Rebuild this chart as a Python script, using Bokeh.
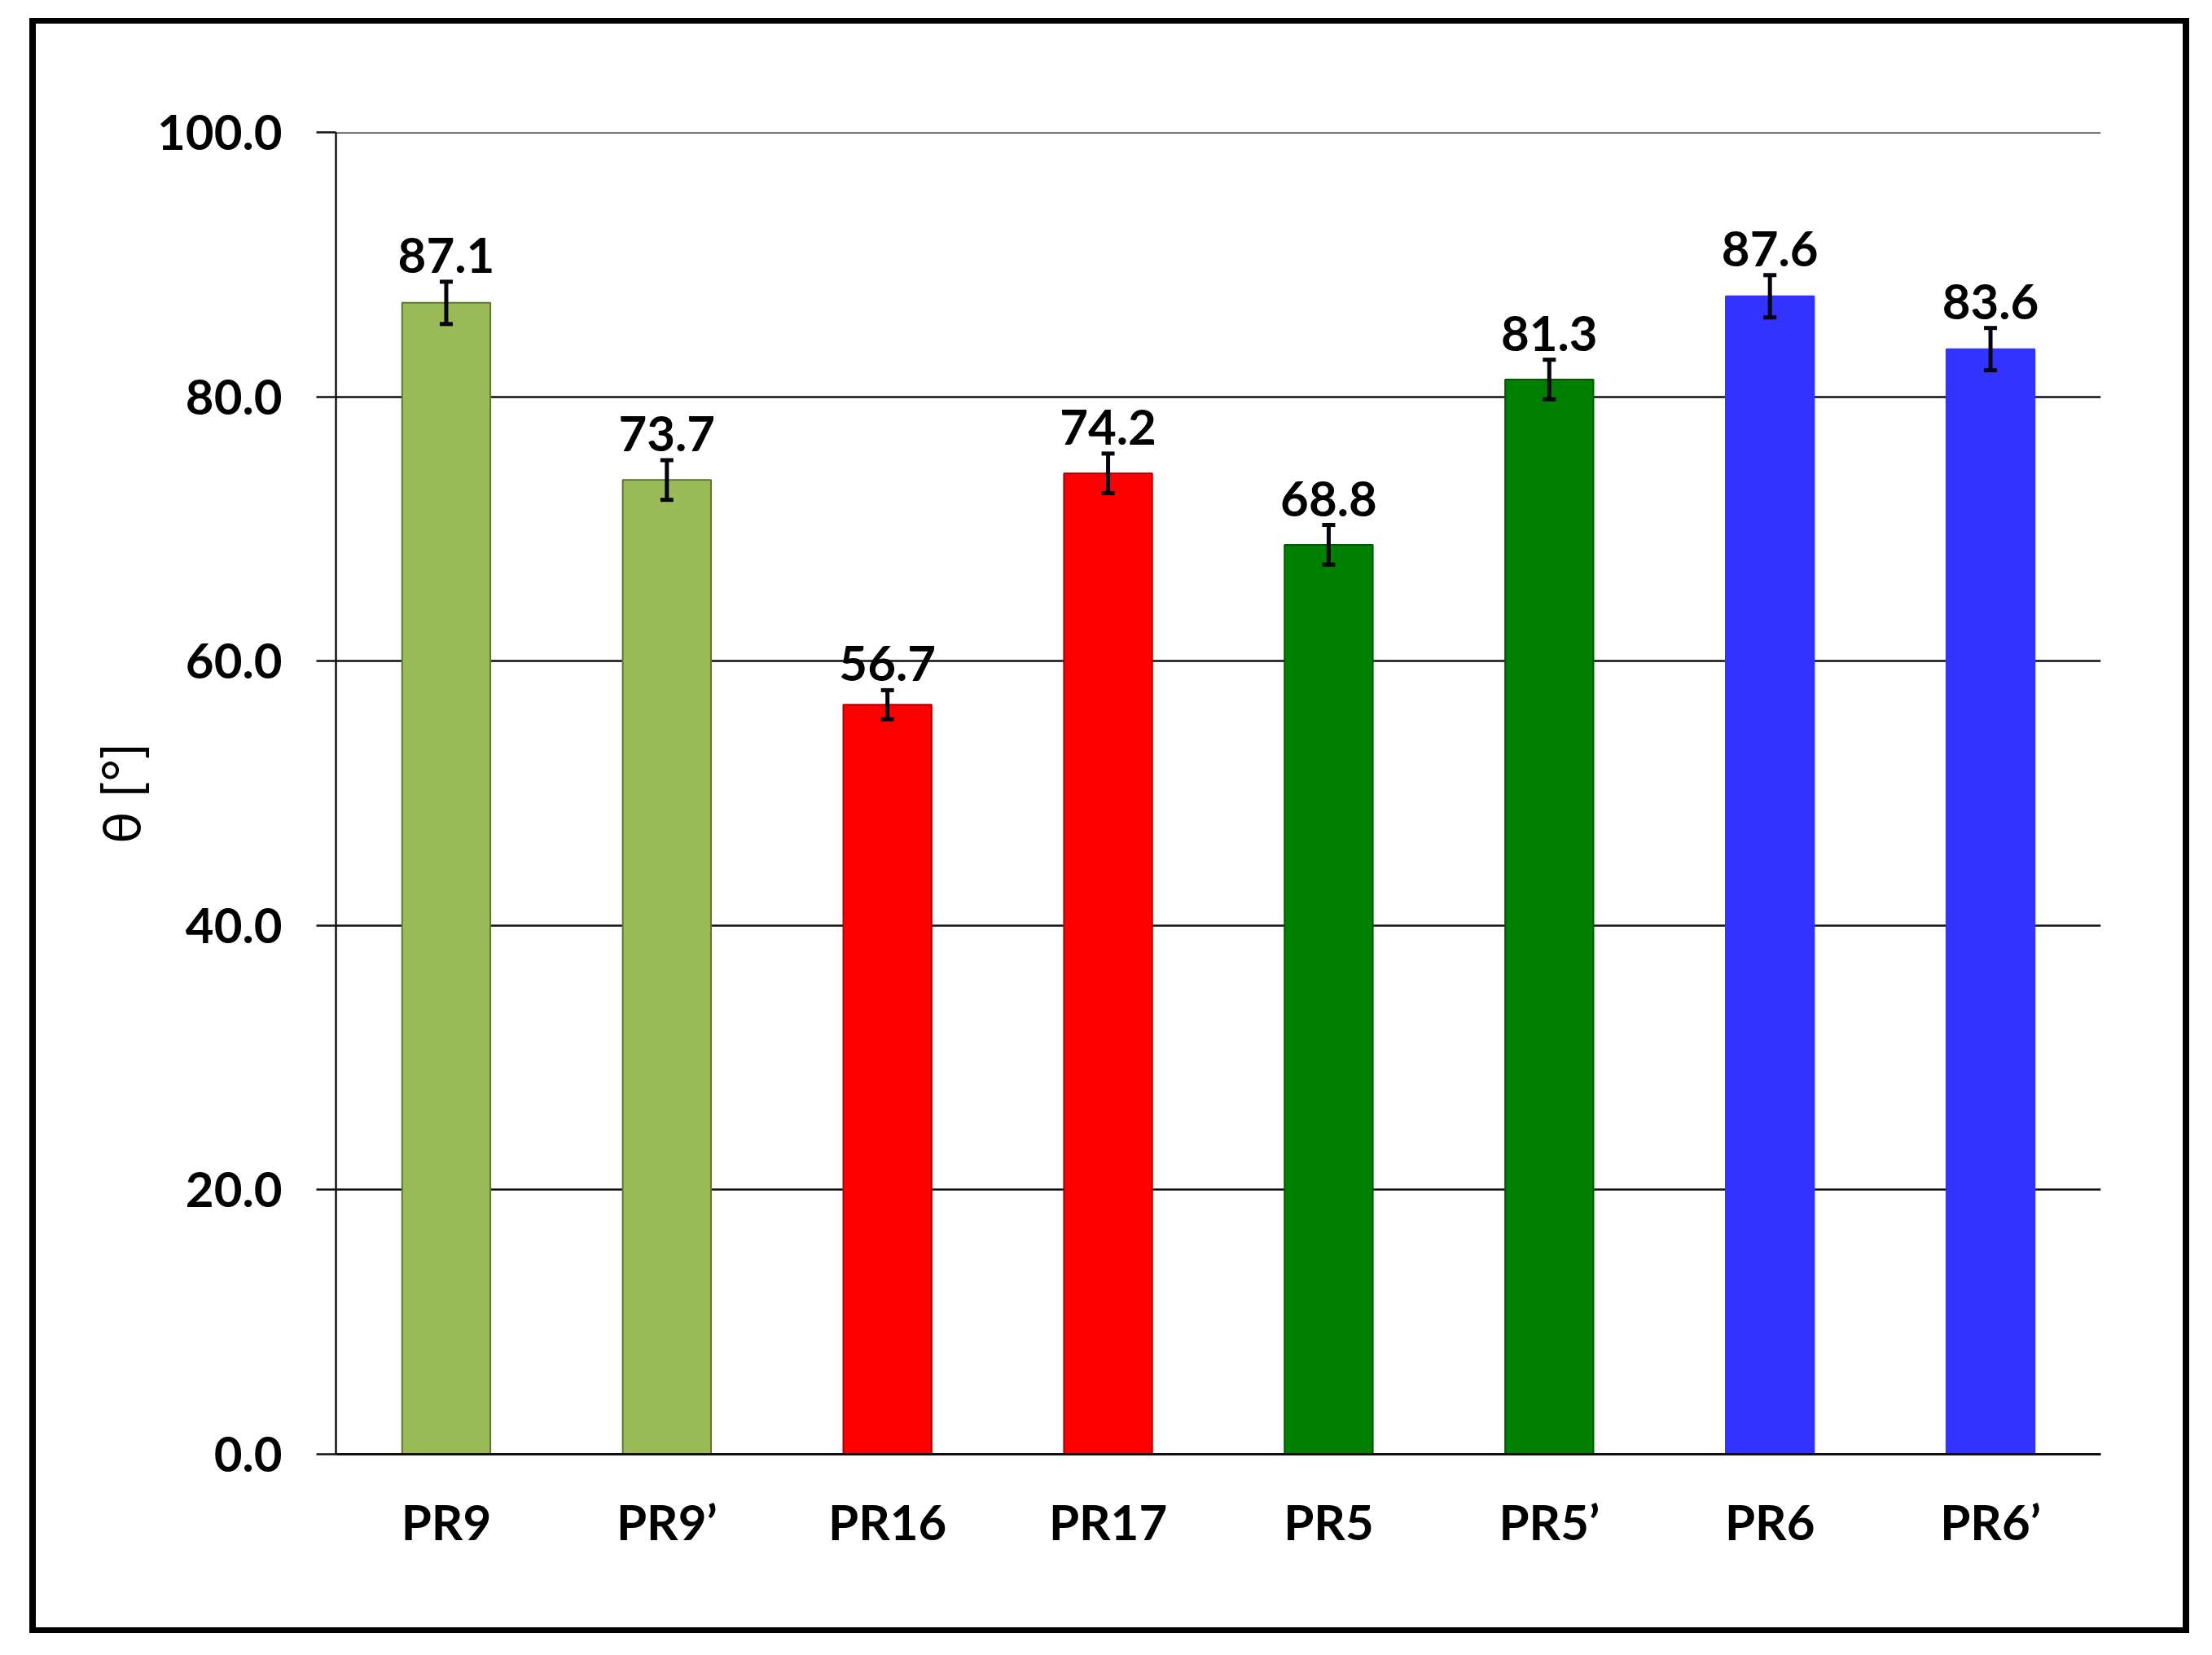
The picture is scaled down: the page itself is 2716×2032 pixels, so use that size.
from bokeh.plotting import figure
from bokeh.models import (ColumnDataSource, FactorRange, Range1d, FixedTicker,
                          PrintfTickFormatter, Whisker, LabelSet, Span)
from bokeh.core.properties import value
from bokeh.embed import file_html
from bokeh.resources import INLINE

# ---- data ----
categories = ["PR9", "PR9\u2019", "PR16", "PR17", "PR5", "PR5\u2019", "PR6", "PR6\u2019"]
theta = [87.1, 73.7, 56.7, 74.2, 68.8, 81.3, 87.6, 83.6]
theta_err = [1.6, 1.5, 1.1, 1.5, 1.5, 1.5, 1.6, 1.6]
bar_colors = ["#9BBB59", "#9BBB59", "#FF0000", "#FF0000", "#008000", "#008000", "#3333FF", "#3333FF"]
bar_edges = ["#5F7435", "#5F7435", "#B00000", "#B00000", "#005A00", "#005A00", "#3333FF", "#3333FF"]
y_ticks = [0, 20, 40, 60, 80, 100]

src = ColumnDataSource(dict(
    cat=categories, val=theta, err=theta_err,
    upper=[v + e for v, e in zip(theta, theta_err)],
    lower=[v - e for v, e in zip(theta, theta_err)],
    lbl=["%.1f" % v for v in theta],
    fill=bar_colors, edge=bar_edges,
))

FONT = "Lato"
W, H = 2700, 2010
LINE = "#111111"

p = figure(width=W, height=H, x_range=FactorRange(*categories),
           y_range=Range1d(0, 100), output_backend="svg", toolbar_location=None,
           min_border_left=412, min_border_right=W - 2579, min_border_top=162,
           min_border_bottom=H - 1785)
p.outline_line_color = None
p.background_fill_color = "white"
p.border_fill_alpha = 0

# outer black frame drawn as the figure element's background
frame_css = ", ".join([
    "linear-gradient(#000,#000) 36px 22px / 8px 1983px no-repeat",
    "linear-gradient(#000,#000) 2680px 22px / 8px 1983px no-repeat",
    "linear-gradient(#000,#000) 36px 22px / 2652px 7px no-repeat",
    "linear-gradient(#000,#000) 36px 1998px / 2652px 7px no-repeat",
    "#ffffff",
])
p.styles = {"background": frame_css}

p.vbar(x="cat", top="val", width=0.40, source=src, fill_color="fill",
       line_color="edge", line_width=2)

wh = Whisker(base="cat", upper="upper", lower="lower", source=src,
             line_color="#05050f", line_width=5, level="annotation")
for head in (wh.upper_head, wh.lower_head):
    head.size = 16
    head.line_width = 5
    head.line_color = "#05050f"
p.add_layout(wh)

labels = LabelSet(x="cat", y="upper", text="lbl", source=src, y_offset=11,
                  text_align="center", text_baseline="alphabetic",
                  text_font=value(FONT), text_font_style="bold",
                  text_font_size="60px", text_color="black")
p.add_layout(labels)

# grid
p.xgrid.grid_line_color = None
p.ygrid.grid_line_color = LINE
p.ygrid.grid_line_width = 2.5
p.ygrid.ticker = FixedTicker(ticks=y_ticks)
p.add_layout(Span(location=y_ticks[-1], dimension="width",
                  line_color=LINE, line_width=2.5))

# y axis
ya = p.yaxis[0]
ya.ticker = FixedTicker(ticks=y_ticks)
ya.formatter = PrintfTickFormatter(format="%.1f")
ya.axis_line_color = LINE
ya.axis_line_width = 2.5
ya.major_tick_line_color = LINE
ya.major_tick_line_width = 2.5
ya.major_tick_out = 24
ya.major_tick_in = 0
ya.minor_tick_line_color = None
ya.major_label_standoff = 42
ya.major_label_text_font = FONT
ya.major_label_text_font_style = "bold"
ya.major_label_text_font_size = "60px"
ya.major_label_text_color = "black"
ya.axis_label = "\u03b8 [\u00b0]"
ya.axis_label_text_font = FONT
ya.axis_label_text_font_style = "normal"
ya.axis_label_text_font_size = "66px"
ya.axis_label_text_color = "black"
ya.axis_label_standoff = 3

# x axis
xa = p.xaxis[0]
xa.axis_line_color = LINE
xa.axis_line_width = 3
xa.major_tick_line_color = None
xa.minor_tick_line_color = None
xa.major_label_standoff = 40
xa.major_label_text_font = FONT
xa.major_label_text_font_style = "bold"
xa.major_label_text_font_size = "60px"
xa.major_label_text_color = "black"

open("out.html", "w").write(file_html(p, INLINE))
